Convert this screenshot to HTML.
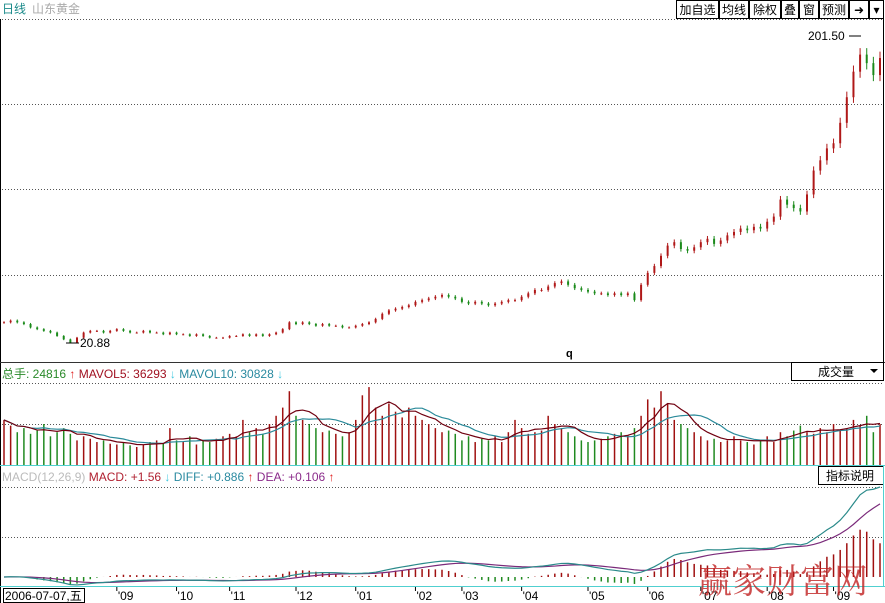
<!DOCTYPE html>
<html><head><meta charset="utf-8">
<style>
body{margin:0;background:#fff;width:885px;height:603px;overflow:hidden;font-family:"Liberation Sans","Noto Sans CJK SC",sans-serif;}
svg{display:block}
</style></head>
<body>
<svg id="c" width="885" height="603" xmlns="http://www.w3.org/2000/svg" font-family="Liberation Sans, Noto Sans CJK SC, sans-serif">
<rect x="0" y="0" width="885" height="603" fill="#fff"/>
<text x="2" y="13" font-size="12" fill="#1a8a8a">日线</text>
<text x="32" y="13" font-size="12" fill="#aaa">山东黄金</text>
<g id="toolbar" font-size="12" fill="#000"></g>
<line x1="0.5" y1="19" x2="0.5" y2="603" stroke="#000"/>
<line x1="883.5" y1="19" x2="883.5" y2="362" stroke="#000"/>
<line x1="0" y1="362.5" x2="885" y2="362.5" stroke="#333"/>
<g id="grid" stroke="#555" stroke-dasharray="1,2"></g>
<g id="candles"></g>
<text x="80" y="347" font-size="12" fill="#000">20.88</text>
<line x1="66" y1="343" x2="79" y2="343" stroke="#000"/>
<text x="808" y="40" font-size="12" fill="#000">201.50</text>
<line x1="849" y1="36" x2="861" y2="36" stroke="#000"/>
<text x="566" y="357" font-size="11" font-weight="bold" fill="#000">q</text>
<text x="2" y="378" font-size="12"><tspan fill="#2a8a2a">总手: 24816</tspan><tspan fill="#e02020" font-weight="bold"> ↑ </tspan><tspan fill="#a01020"> MAVOL5: 36293</tspan><tspan fill="#40c8e0" font-weight="bold"> ↓ </tspan><tspan fill="#2a8aa0"> MAVOL10: 30828</tspan><tspan fill="#40c8e0" font-weight="bold"> ↓</tspan></text>
<rect x="791.5" y="362.5" width="92" height="18" fill="#fff" stroke="#000"/>
<text x="818" y="376" font-size="12">成交量</text>
<path d="M870 369 l8 0 l-4 4z" fill="#000"/>
<g id="vol"></g>
<line x1="0" y1="465.5" x2="885" y2="465.5" stroke="#50d0d0"/>
<text x="2" y="481" font-size="12"><tspan fill="#bbb">MACD(12,26,9)</tspan><tspan fill="#b02030"> MACD: +1.56</tspan><tspan fill="#40c8e0" font-weight="bold"> ↓ </tspan><tspan fill="#2a8aa0"> DIFF: +0.886</tspan><tspan fill="#e02020" font-weight="bold"> ↑ </tspan><tspan fill="#8a2a8a"> DEA: +0.106</tspan><tspan fill="#e02020" font-weight="bold"> ↑</tspan></text>
<rect x="818.5" y="466.5" width="65" height="18" fill="#fff" stroke="#000"/>
<text x="826" y="480" font-size="12">指标说明</text>
<g id="macd"></g>
<line x1="883.5" y1="466" x2="883.5" y2="586" stroke="#50d0d0"/>
<line x1="0" y1="586.5" x2="885" y2="586.5" stroke="#50d0d0"/>
<g id="xaxis" font-size="12" fill="#000"></g>
<rect x="3.5" y="588.5" width="81" height="14" fill="#fff" stroke="#000"/>
<text x="5" y="600" font-size="12">2006-07-07,五</text>
<text x="698" y="593" font-size="34" fill="#c02020" fill-opacity="0.8" font-family="Liberation Serif, Noto Serif CJK SC, serif">赢家财富网</text>
</svg>
<script>
const closes=[33,34,33,32,30,29,28,27,25,23,21,
24,27,28,28,27,28,29,28,27,27,
28,27,27,26,27,26,26,25,26,25,24,24,24,
25,25,26,25,26,25,26,27,29,
33,32,33,32,31,32,31,31,30,30,
31,32,33,35,38,40,41,42,
43,45,46,47,48,49,48,47,45,44,
45,44,43,44,45,46,46,48,50,52,
52,54,56,57,55,53,52,51,
50,50,49,50,49,50,46,
55,62,66,72,78,80,
76,75,77,80,82,79,81,84,86,
88,87,89,88,92,95,105,
102,100,98,108,
122,128,135,138,150,
165,180,190,185,178,188];
const volumes=[55,48,40,45,38,42,50,35,40,45,38,
30,35,32,28,30,26,25,28,24,22,
25,28,30,26,45,30,28,35,25,30,28,32,35,
38,35,55,40,45,38,50,60,70,
90,60,55,50,45,40,42,38,35,40,
55,85,95,70,60,75,65,58,
70,60,55,50,45,40,42,38,30,35,
28,32,30,35,28,40,55,45,38,40,
42,60,50,45,40,35,30,28,
30,32,35,38,40,36,45,
60,80,70,90,75,55,
50,45,40,35,30,32,28,30,35,
30,28,25,30,35,28,40,
35,42,48,40,
38,45,40,50,42,
45,55,48,60,40,50];
const xTicks=["'09","'10","'11","'12","'01","'02","'03","'04","'05","'06","'07","'08","'09"];
const xTickIdx=[17,26,34,44,53,62,69,78,88,97,105,115,125];
const toolbarLabels=["加自选","均线","除权","叠","窗","预测","➜","▾"];
const toolbarEdges=[676,719,749,781,799,819,849,869,884];

const NS="http://www.w3.org/2000/svg";
function mk(tag,attrs,parent){const e=document.createElementNS(NS,tag);for(const k in attrs)e.setAttribute(k,attrs[k]);parent.appendChild(e);return e;}
const N=closes.length, step=876/(N-1);
const xAt=i=>4+i*step;
const pMin=20.88,pMax=201.5;
const yP=p=>343-(p-pMin)/(pMax-pMin)*308;

const tb=document.getElementById('toolbar');
toolbarLabels.forEach((t,i)=>{
 const x0=toolbarEdges[i],x1=toolbarEdges[i+1];
 const r=mk('rect',{x:x0+0.5,y:0.5,width:x1-x0-1,height:18,fill:'#fff',stroke:'#000'},tb);
 
 
 const tx=mk('text',{x:(x0+x1)/2,y:14,'text-anchor':'middle'},tb);
 tx.textContent=t;
 
 
});

const g=document.getElementById('grid');
[19.5,104.5,189.5,275.5,383.5,424.5,487.5,537.5].forEach(y=>{
 const l=mk('line',{x1:2,y1:y,x2:883,y2:y},g);
 
 
});

const cg=document.getElementById('candles');
for(let i=0;i<N;i++){
 const c=closes[i], o=i?closes[i-1]:c;
 const up=c>=o, col=up?'#b01818':'#1a8a1a';
 const hi=Math.max(o,c)*1.02, lo=Math.min(o,c)*0.98;
 const x=xAt(i);
 const w=mk('line',{x1:x,x2:x,y1:yP(hi),y2:yP(lo),stroke:col},cg);
 
 
 const top=yP(Math.max(o,c)),bot=yP(Math.min(o,c));
 const b=mk('rect',{x:x-1,y:top,width:2,height:Math.max(1,bot-top),fill:col},cg);
 
 
}

const vg=document.getElementById('vol');
const vMax=100, vBase=465, vTop=383;
const yV=v=>vBase-v/vMax*(vBase-vTop);
for(let i=0;i<N;i++){
 const v=volumes[i]||0;
 const up=i===0||closes[i]>=closes[i-1];
 const b=mk('line',{x1:xAt(i),x2:xAt(i),y1:yV(v),y2:vBase,stroke:up?'#a01010':'#208a20','stroke-width':1.5},vg);
 
 
}
function ma(arr,n){return arr.map((v,i)=>{const s=arr.slice(Math.max(0,i-n+1),i+1);return s.reduce((a,b)=>a+b,0)/s.length;});}
function poly(vals,yf,col,parent,name){
 const p=mk('polyline',{points:vals.map((v,i)=>xAt(i)+','+yf(v)).join(' '),fill:'none',stroke:col,'stroke-width':1.2},parent);
 
 
}
const vols=volumes.slice(0,N);
poly(ma(vols,10),yV,'#2a8a9a',vg,'mavol10-line');
poly(ma(vols,5),yV,'#700010',vg,'mavol5-line');

function ema(arr,n){const k=2/(n+1);let e=arr[0];return arr.map(v=>e=e+(v-e)*k);}
const e12=ema(closes,12),e26=ema(closes,26);
const dif=e12.map((v,i)=>v-e26[i]);
const dea=ema(dif,9);
const hist=dif.map((v,i)=>2*(v-dea[i]));
const mg=document.getElementById('macd');
const m=Math.max(...dif,...dea,...hist.map(Math.abs));
const zero=577;
const yM=v=>zero-v/m*90;
for(let i=0;i<N;i++){
 const h=hist[i];
 const b=mk('line',{x1:xAt(i),x2:xAt(i),y1:yM(h),y2:zero,stroke:h>=0?'#a01010':'#208a20','stroke-width':1.5},mg);
 
 
}
poly(dea,yM,'#7a2a7a',mg,'dea-line');
poly(dif,yM,'#2a8a8a',mg,'diff-line');

const xa=document.getElementById('xaxis');
xTicks.forEach((t,k)=>{
 const x=xAt(xTickIdx[k]);
 const tk=mk('line',{x1:x,x2:x,y1:587,y2:591,stroke:'#000'},xa);
 
 
 const tx=mk('text',{x:x+1,y:600},xa);
 tx.textContent=t;
 
 
});
</script>
</body></html>
